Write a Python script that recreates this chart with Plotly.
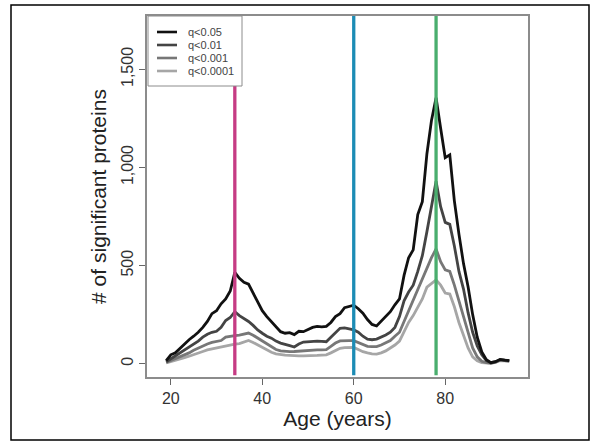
import plotly.graph_objects as go

ages = list(range(19, 95))

q005 = [15, 45, 55, 78, 100, 122, 140, 160, 185, 215, 255, 270, 305, 330, 370, 465, 435, 415, 405, 360,
        315, 270, 240, 215, 185, 163, 155, 158, 148, 165, 163, 175, 185, 190, 188, 190, 210, 240, 255, 285,
        290, 298, 280, 257, 225, 200, 192, 215, 240, 265, 300, 330, 450, 540, 580, 760, 826, 1070, 1240, 1355,
        1200, 1050, 1064, 830, 660, 510, 392, 250, 135, 60, 20, 5, 10, 22, 18, 15]
q001 = [10, 25, 38, 52, 68, 85, 100, 115, 135, 150, 160, 165, 185, 220, 235, 265, 245, 232, 215, 195,
        172, 155, 140, 130, 115, 105, 100, 92, 85, 100, 110, 112, 115, 115, 114, 112, 135, 160, 180, 182,
        178, 172, 160, 140, 125, 122, 125, 135, 146, 160, 185, 240, 320, 365, 400, 470, 550, 673, 800, 930,
        800, 720, 710, 600, 470, 380, 260, 160, 90, 45, 15, 5, 10, 20, 18, 15]
q0001 = [6, 15, 25, 35, 45, 55, 68, 80, 92, 100, 108, 112, 118, 135, 140, 143, 145, 152, 156, 145,
         130, 115, 100, 85, 72, 65, 62, 61, 62, 64, 66, 68, 70, 70, 70, 72, 88, 105, 116, 118,
         117, 117, 108, 95, 88, 87, 87, 95, 105, 118, 140, 160, 215, 270, 320, 380, 430, 490, 540, 585,
         520, 478, 470, 400, 320, 240, 160, 80, 35, 12, 5, 3, 8, 18, 16, 13]
q00001 = [4, 10, 17, 24, 31, 38, 45, 55, 62, 70, 75, 80, 85, 92, 95, 100, 102, 110, 118, 108,
          95, 80, 68, 58, 50, 45, 43, 42, 40, 40, 40, 40, 42, 42, 44, 45, 55, 68, 78, 82,
          82, 83, 72, 61, 55, 50, 49, 55, 65, 78, 95, 115, 160, 210, 245, 290, 330, 390, 410, 427,
          400, 360, 355, 290, 210, 140, 80, 35, 15, 5, 2, 2, 6, 16, 14, 12]

series_names = ["q<0.05", "q<0.01", "q<0.001", "q<0.0001"]
series_values = [q005, q001, q0001, q00001]
series_colors = ["#111111", "#444444", "#777777", "#a6a6a6"]

vline_ages = [34, 60, 78]
vline_colors = ["#c63c84", "#1c8cb5", "#4aae6e"]

x_ticks = [20, 40, 60, 80]
y_ticks = [0, 500, 1000, 1500]

# plot area in pixels (fixed margins)
L, R, T, B = 147, 72, 16, 70
W, H = 600, 447
pw, ph = W - L - R, H - T - B


def px(xp):
    return (xp - L) / pw


def py(yp):
    return (H - B - yp) / ph


fig = go.Figure()

for name, vals, col in reversed(list(zip(series_names, series_values, series_colors))):
    fig.add_trace(go.Scatter(x=ages, y=vals, mode="lines", name=name, showlegend=False,
                             line=dict(color=col, width=2.8)))

for a, c in zip(vline_ages, vline_colors):
    fig.add_shape(type="line", xref="x", yref="paper", x0=a, x1=a, y0=0.005, y1=1,
                  line=dict(color=c, width=3.3), layer="above")

# legend box (drawn manually to match the compact R legend)
fig.add_shape(type="rect", xref="paper", yref="paper", x0=px(148), x1=px(242), y0=py(86), y1=py(16),
              line=dict(color="#8c8c8c", width=1), fillcolor="white", layer="above")
row_y = [32, 45, 58, 71]
for name, col, ry in zip(series_names, series_colors, row_y):
    fig.add_shape(type="line", xref="paper", yref="paper", x0=px(157), x1=px(177), y0=py(ry), y1=py(ry),
                  line=dict(color=col, width=2.6), layer="above")
    fig.add_annotation(xref="paper", yref="paper", x=px(186), y=py(ry), text=name, showarrow=False,
                       xanchor="left", yanchor="middle", font=dict(size=11, color="#444444"))

# outer frame
fig.add_shape(type="rect", xref="paper", yref="paper", x0=px(11), x1=px(589), y0=py(440), y1=py(5),
              line=dict(color="black", width=1.5), fillcolor="rgba(0,0,0,0)")

fig.update_layout(
    width=W, height=H,
    margin=dict(l=L, r=R, t=T, b=B),
    paper_bgcolor="white", plot_bgcolor="white",
    font=dict(family="Liberation Sans, Arial, sans-serif", color="#333333"),
    showlegend=False,
    xaxis=dict(range=[14.8, 98.1], tickvals=x_ticks, ticks="outside", ticklen=6,
               tickcolor="#666666", showline=True, mirror=True, linecolor="#8c8c8c",
               linewidth=1.5, showgrid=False, zeroline=False, automargin=False,
               tickfont=dict(size=16, color="#333333"),
               title=dict(text="Age (years)", font=dict(size=21, color="#222222"), standoff=4)),
    yaxis=dict(range=[-68, 1772], tickvals=y_ticks, tickformat=",d", ticks="outside", ticklen=6,
               tickcolor="#666666", showline=True, mirror=True, linecolor="#8c8c8c",
               linewidth=1.5, showgrid=False, zeroline=False, tickangle=-90, automargin=False,
               tickfont=dict(size=16, color="#333333"),
               title=dict(text="# of significant proteins", font=dict(size=21, color="#222222"), standoff=6)),
)

fig.write_html("out.html", config={"displayModeBar": False},
               post_script="document.body.style.margin='0';")
